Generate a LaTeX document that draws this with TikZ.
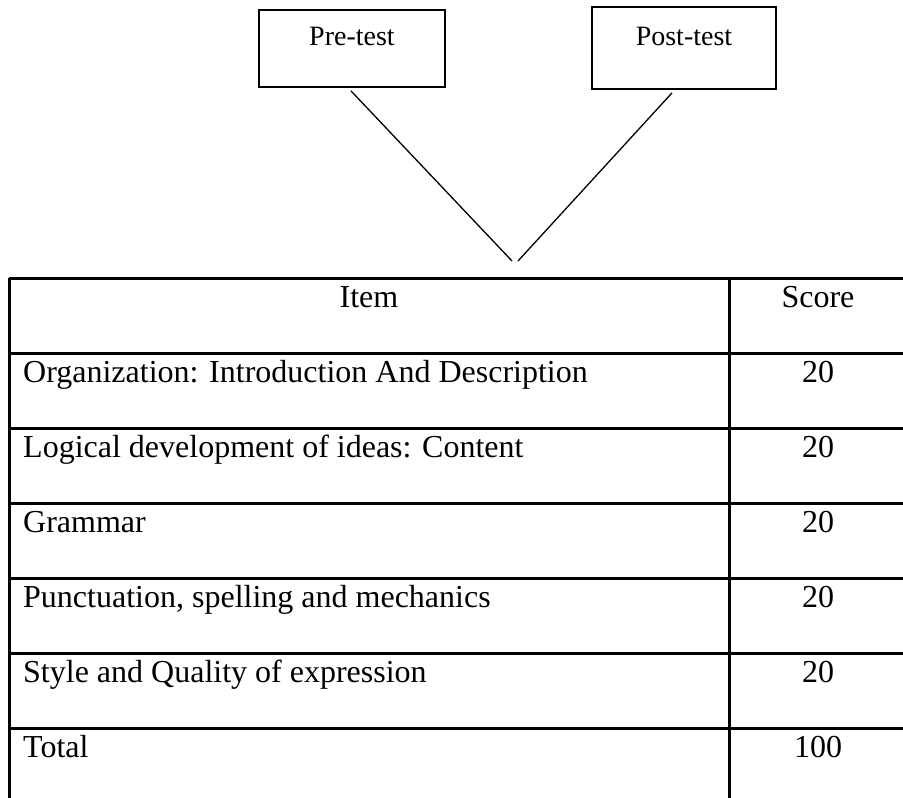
\documentclass[tikz,border=0pt]{standalone}
\usepackage{fontspec}
\setmainfont{Liberation Serif}
\usetikzlibrary{positioning}

\tikzset{
  testbox/.style={draw, line width=1.8pt, inner sep=0pt, font=\fontsize{28}{32}\selectfont},
  cell/.style={inner sep=0pt, font=\fontsize{32}{38}\selectfont},
  rule/.style={line width=3pt}
}

\begin{document}
\begin{tikzpicture}[x=1pt,y=-1pt]
\useasboundingbox (0,0) rectangle (903,798);
\clip (0,0) rectangle (903,798);
% the two tests
\node[testbox, minimum width=186pt, text height=35pt, text depth=42pt] (pre) at (352,48.5) {Pre-test};
\node[testbox, minimum width=184pt, text height=38pt, text depth=44pt] (post) at (684,48) {Post-test};
\coordinate (meetL) at (512,261);
\coordinate (meetR) at (518,261);
\draw[line width=1.3pt] ([xshift=-1pt,yshift=-3pt]pre.south) -- (meetL);
\draw[line width=1.3pt] ([xshift=-12pt,yshift=-3pt]post.south) -- (meetR);
% table
\foreach \y in {278,353,...,728} \draw[rule] (9,\y) -- (909,\y);
\foreach \x in {9,729,909} \draw[rule] (\x,278) -- (\x,803);
\node[cell, anchor=base] (item) at (369,307) {Item};
\node[cell, anchor=base] (score) at (818,307) {Score};
\foreach \t/\s [count=\i] in {{Organization: Introduction And Description}/20,
    {Logical development of ideas: Content}/20, {Grammar}/20,
    {Punctuation, spelling and mechanics}/20, {Style and Quality of expression}/20,
    {Total}/100}
{
  \node[cell, anchor=base west] (item\i) at (23,{307+75*\i}) {\t};
  \node[cell, anchor=base] (score\i) at (818,{307+75*\i}) {\s};
}
\end{tikzpicture}
\end{document}
